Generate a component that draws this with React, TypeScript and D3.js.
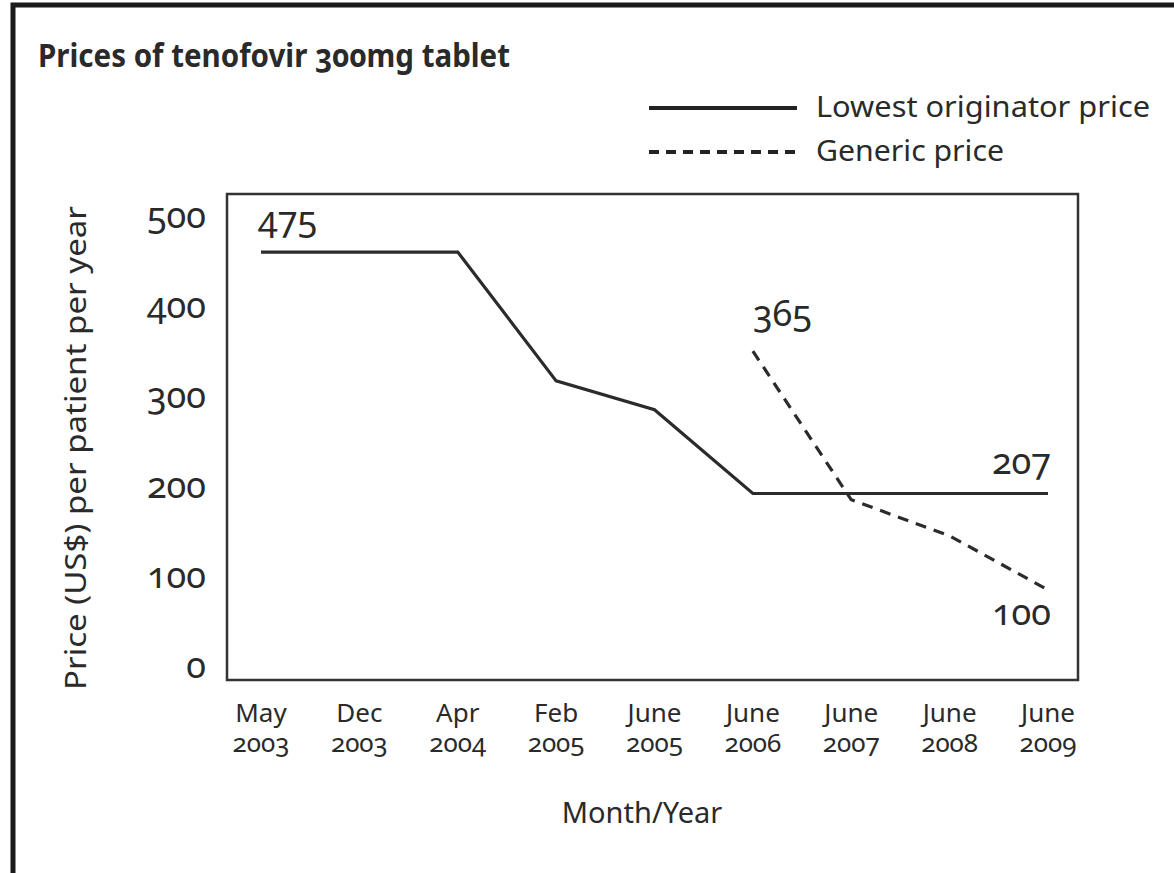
import React, { useEffect, useRef } from 'react';
import * as d3 from 'd3';

// x categories (two-line tick labels)
const months = ['May', 'Dec', 'Apr', 'Feb', 'June', 'June', 'June', 'June', 'June'];
const years = ['2003', '2003', '2004', '2005', '2005', '2006', '2007', '2008', '2009'];
const categories = months.map((m, i) => `${m} ${years[i]}`);

// prices, US$ per patient per year
const originatorPrice = [475, 475, 475, 332, 300, 207, 207, 207, 207];
const genericPrice: (number | null)[] = [null, null, null, null, null, 365, 200, 160, 100];

const yTicks = [0, 100, 200, 300, 400, 500];

const FONT = '"Noto Sans", "Open Sans", sans-serif';
const INK = '#2a2a2a';

const App = () => {
  const svgRef = useRef<SVGSVGElement>(null);

  useEffect(() => {
    const width = 1174;
    const height = 873;
    const box = { left: 227, right: 1078, top: 194, bottom: 680 };

    const svg = d3.select(svgRef.current)
      .attr('width', width)
      .attr('height', height)
      .style('font-family', FONT)
      .style('font-variant-numeric', 'oldstyle-nums');

    svg.selectAll('*').remove();

    svg.append('rect').attr('width', width).attr('height', height).attr('fill', '#fff');

    // outer frame (left + top only visible)
    svg.append('path')
      .attr('d', `M13,${height} L13,5 L${width},5`)
      .attr('fill', 'none')
      .attr('stroke', '#1a1a1a')
      .attr('stroke-width', 5);

    const x = d3.scalePoint<string>().domain(categories).range([261, 1048]);
    const y = d3.scaleLinear().domain([0, 500]).range([box.bottom, 229.5]);

    // title
    svg.append('text')
      .attr('x', 38)
      .attr('y', 67)
      .attr('font-size', 32)
      .attr('font-weight', 'bold')
      .attr('fill', INK)
      .attr('textLength', 472)
      .attr('lengthAdjust', 'spacingAndGlyphs')
      .text('Prices of tenofovir 300mg tablet');

    // legend
    const legend = [
      { label: 'Lowest originator price', dash: null, y: 106, len: 334 },
      { label: 'Generic price', dash: '10,7', y: 150, len: 188 }
    ];
    legend.forEach(l => {
      svg.append('line')
        .attr('x1', 649).attr('x2', 797)
        .attr('y1', l.y + 2).attr('y2', l.y + 2)
        .attr('stroke', '#222')
        .attr('stroke-width', 4)
        .attr('stroke-dasharray', l.dash);
      svg.append('text')
        .attr('x', 816)
        .attr('y', l.y + 11)
        .attr('font-size', 29)
        .attr('fill', INK)
        .attr('textLength', l.len)
        .attr('lengthAdjust', 'spacingAndGlyphs')
        .text(l.label);
    });

    // plot box
    svg.append('rect')
      .attr('x', box.left)
      .attr('y', box.top)
      .attr('width', box.right - box.left)
      .attr('height', box.bottom - box.top)
      .attr('fill', 'none')
      .attr('stroke', '#333')
      .attr('stroke-width', 2.5);

    // y tick labels
    svg.append('g')
      .selectAll('text')
      .data(yTicks)
      .join('text')
      .attr('x', 206)
      .attr('y', d => y(d) - 2)
      .attr('text-anchor', 'end')
      .attr('font-size', 36)
      .attr('fill', INK)
      .text(d => d);

    // y axis title
    svg.append('text')
      .attr('transform', `translate(86,${448}) rotate(-90)`)
      .attr('text-anchor', 'middle')
      .attr('font-size', 29)
      .attr('fill', INK)
      .attr('textLength', 484)
      .attr('lengthAdjust', 'spacingAndGlyphs')
      .text('Price (US$) per patient per year');

    // x tick labels
    const xt = svg.append('g')
      .selectAll('text')
      .data(categories)
      .join('text')
      .attr('text-anchor', 'middle')
      .attr('font-size', 26)
      .attr('fill', INK);
    xt.append('tspan')
      .attr('x', d => x(d)!)
      .attr('y', 722)
      .text((d, i) => months[i]);
    xt.append('tspan')
      .attr('x', d => x(d)!)
      .attr('y', 752)
      .text((d, i) => years[i]);

    // x axis title
    svg.append('text')
      .attr('x', 642)
      .attr('y', 823)
      .attr('text-anchor', 'middle')
      .attr('font-size', 29)
      .attr('fill', INK)
      .text('Month/Year');

    // lines
    const line = d3.line<number | null>()
      .defined(d => d != null)
      .x((d, i) => x(categories[i])!)
      .y(d => y(d as number));

    svg.append('path')
      .datum(originatorPrice)
      .attr('d', line)
      .attr('fill', 'none')
      .attr('stroke', '#2b2b2b')
      .attr('stroke-width', 3.2)
      .attr('stroke-linejoin', 'miter');

    svg.append('path')
      .datum(genericPrice)
      .attr('d', line)
      .attr('fill', 'none')
      .attr('stroke', '#2b2b2b')
      .attr('stroke-width', 3.2)
      .attr('stroke-dasharray', '11,8');

    // value labels
    const last = categories[categories.length - 1];
    const labels = [
      { text: '475', x: x(categories[0])! - 3, y: y(475) - 20, anchor: 'start' },
      { text: '365', x: x(categories[5])!, y: y(365) - 25, anchor: 'start' },
      { text: '207', x: x(last)! + 3, y: y(207) - 19, anchor: 'end' },
      { text: '100', x: x(last)! + 3, y: y(100) + 35, anchor: 'end' }
    ];
    svg.append('g')
      .selectAll('text')
      .data(labels)
      .join('text')
      .attr('x', d => d.x)
      .attr('y', d => d.y)
      .attr('text-anchor', d => d.anchor)
      .attr('font-size', 36)
      .attr('fill', INK)
      .text(d => d.text);
  }, []);

  return (
    <svg ref={svgRef} style={{ position: 'absolute', left: 0, top: 0, display: 'block' }} />
  );
};

export default App;
